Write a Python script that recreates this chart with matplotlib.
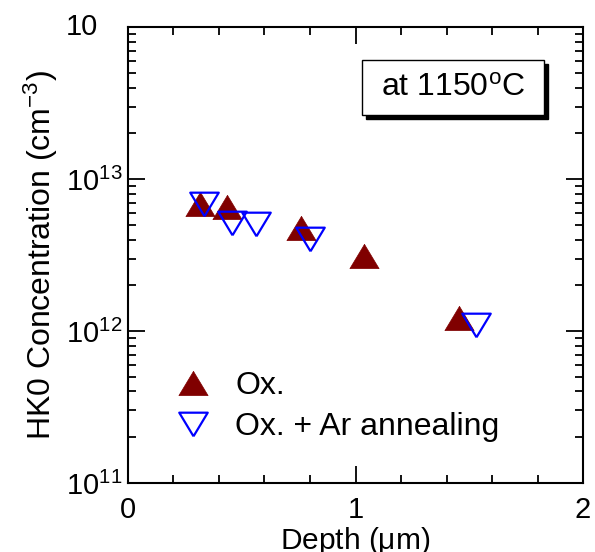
import numpy as np
import matplotlib.pyplot as plt
from matplotlib.patches import Rectangle
from matplotlib.ticker import FixedLocator, FixedFormatter, LogLocator, MultipleLocator

plt.rcParams['font.family'] = ['Liberation Sans', 'DejaVu Sans']
plt.rcParams['mathtext.fontset'] = 'custom'
plt.rcParams['mathtext.rm'] = 'Liberation Sans'
plt.rcParams['mathtext.it'] = 'Liberation Sans'

# Ox.
depth_ox = [0.316, 0.435, 0.762, 1.036, 1.455]
conc_ox = [6.8e12, 6.5e12, 4.77e12, 3.13e12, 1.22e12]

# Ox. + Ar annealing
depth_ar = [0.335, 0.459, 0.563, 0.800, 1.528]
conc_ar = [6.8e12, 5.14e12, 5.07e12, 4.05e12, 1.10e12]

ytick_vals = [1e11, 1e12, 1e13, 1e14]
# top label's exponent is clipped in the original, only "10" shows
ytick_labels = [r'$\mathdefault{10^{11}}$', r'$\mathdefault{10^{12}}$',
                r'$\mathdefault{10^{13}}$', '']

tri_up = [(0, 0.83), (-1, -0.83), (1, -0.83), (0, 0.83)]
tri_dn = [(0, -0.83), (-1, 0.83), (1, 0.83), (0, -0.83)]

fig = plt.figure(figsize=(5.95, 5.52), dpi=100)
ax = fig.add_axes([0.215, 0.125, 0.765, 0.826])

ax.plot(depth_ox, conc_ox, linestyle='none', marker=tri_up, ms=21,
        color='#800000', mec='#800000', mew=0.5, label='Ox.')
ax.plot(depth_ar, conc_ar, linestyle='none', marker=tri_dn, ms=20.5,
        mfc='none', mec='#0000ff', mew=1.6, label='Ox. + Ar annealing')

ax.set_yscale('log')
ax.set_xlim(0, 2)
ax.set_ylim(1e11, 1e14)
ax.xaxis.set_major_locator(MultipleLocator(1))
ax.xaxis.set_minor_locator(MultipleLocator(0.2))
ax.yaxis.set_major_locator(FixedLocator(ytick_vals))
ax.yaxis.set_major_formatter(FixedFormatter(ytick_labels))
ax.yaxis.set_minor_locator(LogLocator(base=10, subs=np.arange(2, 10)))

ax.tick_params(which='both', direction='in', top=True, right=True,
               width=1.3, labelsize=21)
ax.tick_params(axis='x', pad=9)
ax.tick_params(axis='y', pad=4)
ax.tick_params(which='major', length=12)
ax.tick_params(which='minor', length=5.5)
for s in ax.spines.values():
    s.set_linewidth(1.5)

ax.text(-0.066, 1e14, '10', transform=ax.get_yaxis_transform(),
        ha='right', va='center', fontsize=21, clip_on=False)

ax.set_xlabel(r'Depth ($\mathdefault{\mu}$m)', fontsize=21.5, labelpad=1)
ax.set_ylabel(r'HK0 Concentration (cm$^{\mathdefault{-3}}$)', fontsize=23, labelpad=4)

# label box with shadow
bx, by, bw, bh = 0.514, 0.807, 0.40, 0.121
ax.add_patch(Rectangle((bx + 0.009, by - 0.009), bw, bh, transform=ax.transAxes,
                       facecolor='black', edgecolor='black', zorder=4))
ax.add_patch(Rectangle((bx, by), bw, bh, transform=ax.transAxes,
                       facecolor='white', edgecolor='black', lw=1.0, zorder=5))
ax.text(bx + bw / 2, by + bh / 2, r'at 1150$^{\mathdefault{o}}$C', transform=ax.transAxes,
        ha='center', va='center', fontsize=23, zorder=6)

ax.legend(loc='lower left', bbox_to_anchor=(0.101, 0.09), frameon=False, fontsize=23,
          handlelength=1.2, handletextpad=0.72, labelspacing=0.35, borderpad=0,
          borderaxespad=0)

fig.savefig('out.png', dpi=100)
